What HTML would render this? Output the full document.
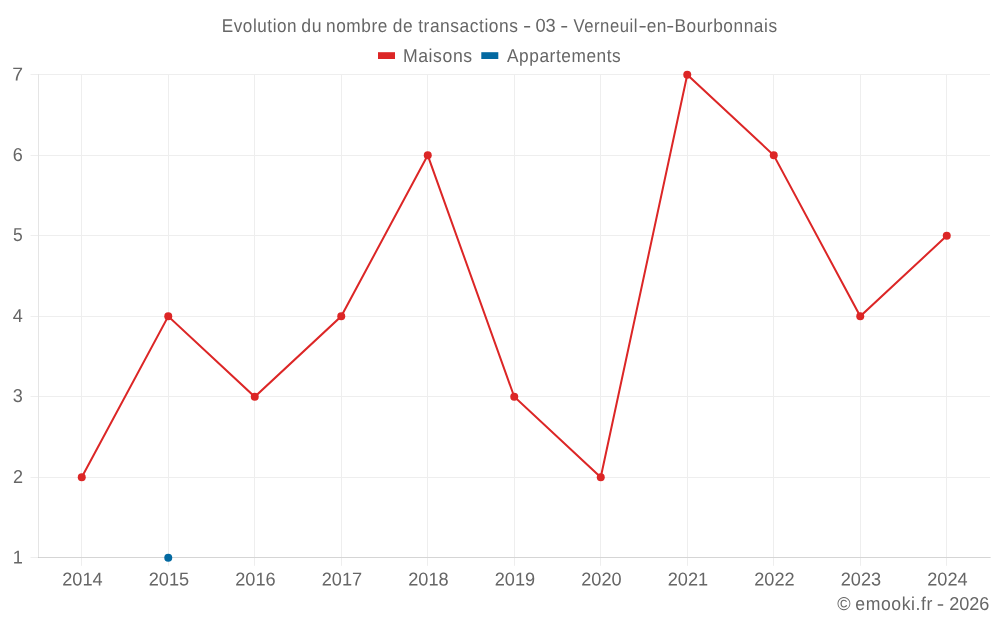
<!DOCTYPE html>
<html lang="fr"><head><meta charset="utf-8"><title>Evolution du nombre de transactions - 03 - Verneuil-en-Bourbonnais</title>
<style>
html,body{margin:0;padding:0;background:#fff;}
body{width:1000px;height:625px;overflow:hidden;}
.chart{margin:0;padding:0;width:1000px;height:625px;position:relative;background:#fff;}
.chart svg{display:block;width:1000px;height:625px;}
.chart text{font-family:"Liberation Sans",Arial,Helvetica,sans-serif;font-size:18.6px;fill:#666;text-rendering:geometricPrecision;}
</style></head><body>
<figure class="chart">
<svg width="1000" height="625" viewBox="0 0 1000 625" role="img" aria-label="Evolution du nombre de transactions - 03 - Verneuil-en-Bourbonnais">
<rect class="bg" width="1000" height="625" fill="#fff"/>
<g class="grid" stroke="#eeeeee" stroke-width="1" fill="none">
<path d="M81.5 74.8V557.0M81.5 558.0V565.8"/>
<path d="M168.5 74.8V557.0M168.5 558.0V565.8"/>
<path d="M254.5 74.8V557.0M254.5 558.0V565.8"/>
<path d="M341.5 74.8V557.0M341.5 558.0V565.8"/>
<path d="M427.5 74.8V557.0M427.5 558.0V565.8"/>
<path d="M514.5 74.8V557.0M514.5 558.0V565.8"/>
<path d="M600.5 74.8V557.0M600.5 558.0V565.8"/>
<path d="M687.5 74.8V557.0M687.5 558.0V565.8"/>
<path d="M773.5 74.8V557.0M773.5 558.0V565.8"/>
<path d="M860.5 74.8V557.0M860.5 558.0V565.8"/>
<path d="M946.5 74.8V557.0M946.5 558.0V565.8"/>
<path d="M30.5 557.5H38.0M39.0 557.5H990.0"/>
<path d="M30.5 477.5H38.0M39.0 477.5H990.0"/>
<path d="M30.5 396.5H38.0M39.0 396.5H990.0"/>
<path d="M30.5 316.5H38.0M39.0 316.5H990.0"/>
<path d="M30.5 235.5H38.0M39.0 235.5H990.0"/>
<path d="M30.5 155.5H38.0M39.0 155.5H990.0"/>
<path d="M30.5 74.5H38.0M39.0 74.5H990.0"/>
</g>
<g class="axis-border" stroke="rgba(0,0,0,0.1)" stroke-width="1" fill="none">
<path d="M38.5 74.0V558.0"/>
<path d="M38.0 557.5H991.0"/>
</g>
<g class="series series-maisons">
<polyline points="81.75,477.30 168.25,316.30 254.75,396.80 341.25,316.30 427.75,155.30 514.25,396.80 600.75,477.30 687.25,74.80 773.75,155.30 860.25,316.30 946.75,235.80" fill="none" stroke="#dc2626" stroke-width="2" stroke-linejoin="miter" stroke-linecap="butt"/>
<g class="points" fill="#dc2626">
<circle cx="81.75" cy="477.30" r="4"/>
<circle cx="168.25" cy="316.30" r="4"/>
<circle cx="254.75" cy="396.80" r="4"/>
<circle cx="341.25" cy="316.30" r="4"/>
<circle cx="427.75" cy="155.30" r="4"/>
<circle cx="514.25" cy="396.80" r="4"/>
<circle cx="600.75" cy="477.30" r="4"/>
<circle cx="687.25" cy="74.80" r="4"/>
<circle cx="773.75" cy="155.30" r="4"/>
<circle cx="860.25" cy="316.30" r="4"/>
<circle cx="946.75" cy="235.80" r="4"/>
</g>
</g>
<g class="series series-appartements">
<circle cx="168.25" cy="557.80" r="4" fill="#0369a1"/>
</g>
<text class="title" transform="matrix(1 0.0005 0 1 0 31.400)"><tspan x="221.82" textLength="75.28" lengthAdjust="spacingAndGlyphs" style="letter-spacing:0.6px">Evolution</tspan> <tspan x="301.29" textLength="20.81" lengthAdjust="spacingAndGlyphs" style="letter-spacing:0.6px">du</tspan> <tspan x="326.04" textLength="61.86" lengthAdjust="spacingAndGlyphs" style="letter-spacing:0.6px">nombre</tspan> <tspan x="392.70" textLength="20.42" lengthAdjust="spacingAndGlyphs" style="letter-spacing:0.6px">de</tspan> <tspan x="418.17" textLength="100.39" lengthAdjust="spacingAndGlyphs" style="letter-spacing:0.6px">transactions</tspan> <tspan x="523.03" textLength="8.27" lengthAdjust="spacingAndGlyphs">-</tspan> <tspan x="535.46" textLength="20.34" lengthAdjust="spacingAndGlyphs">03</tspan> <tspan x="560.27" textLength="8.00" lengthAdjust="spacingAndGlyphs">-</tspan> <tspan x="573.49" textLength="64.53" lengthAdjust="spacingAndGlyphs" style="letter-spacing:0.6px">Verneuil</tspan><tspan x="638.43" textLength="8.27" lengthAdjust="spacingAndGlyphs">-</tspan><tspan x="646.70" textLength="20.36" lengthAdjust="spacingAndGlyphs" style="letter-spacing:0.6px">en</tspan><tspan x="666.27" textLength="8.00" lengthAdjust="spacingAndGlyphs">-</tspan><tspan x="674.41" textLength="103.18" lengthAdjust="spacingAndGlyphs" style="letter-spacing:0.6px">Bourbonnais</tspan></text>
<g class="legend">
<g class="legend-item"><rect x="378" y="52.2" width="17" height="6.8" fill="#dc2626"/>
<text transform="matrix(1 0.0005 0 1 0 61.431)"><tspan x="402.98" textLength="69.70" lengthAdjust="spacingAndGlyphs" style="letter-spacing:0.6px">Maisons</tspan></text></g>
<g class="legend-item"><rect x="481.3" y="52.2" width="17" height="6.8" fill="#0369a1"/>
<text transform="matrix(1 0.0005 0 1 0 61.368)"><tspan x="506.98" textLength="114.37" lengthAdjust="spacingAndGlyphs" style="letter-spacing:0.6px">Appartements</tspan></text></g>
</g>
<g class="y-axis-labels">
<text x="12.64" transform="matrix(1 0.0005 0 1 0 563.441)" textLength="10.11" lengthAdjust="spacingAndGlyphs">1</text>
<text x="12.90" transform="matrix(1 0.0005 0 1 0 482.941)" textLength="10.04" lengthAdjust="spacingAndGlyphs">2</text>
<text x="12.77" transform="matrix(1 0.0005 0 1 0 402.441)" textLength="10.05" lengthAdjust="spacingAndGlyphs">3</text>
<text x="12.64" transform="matrix(1 0.0005 0 1 0 321.941)" textLength="10.04" lengthAdjust="spacingAndGlyphs">4</text>
<text x="13.04" transform="matrix(1 0.0005 0 1 0 241.441)" textLength="9.75" lengthAdjust="spacingAndGlyphs">5</text>
<text x="12.78" transform="matrix(1 0.0005 0 1 0 160.941)" textLength="10.04" lengthAdjust="spacingAndGlyphs">6</text>
<text x="12.21" transform="matrix(1 0.0005 0 1 0 80.441)" textLength="10.81" lengthAdjust="spacingAndGlyphs">7</text>
</g>
<g class="x-axis-labels">
<text x="62.23" transform="matrix(1 0.0005 0 1 0 585.559)" textLength="40.44" lengthAdjust="spacingAndGlyphs">2014</text>
<text x="148.73" transform="matrix(1 0.0005 0 1 0 585.516)" textLength="40.44" lengthAdjust="spacingAndGlyphs">2015</text>
<text x="235.23" transform="matrix(1 0.0005 0 1 0 585.473)" textLength="40.44" lengthAdjust="spacingAndGlyphs">2016</text>
<text x="321.73" transform="matrix(1 0.0005 0 1 0 585.429)" textLength="40.44" lengthAdjust="spacingAndGlyphs">2017</text>
<text x="408.23" transform="matrix(1 0.0005 0 1 0 585.386)" textLength="40.44" lengthAdjust="spacingAndGlyphs">2018</text>
<text x="494.73" transform="matrix(1 0.0005 0 1 0 585.343)" textLength="40.44" lengthAdjust="spacingAndGlyphs">2019</text>
<text x="581.23" transform="matrix(1 0.0005 0 1 0 585.300)" textLength="40.44" lengthAdjust="spacingAndGlyphs">2020</text>
<text x="667.73" transform="matrix(1 0.0005 0 1 0 585.256)" textLength="40.44" lengthAdjust="spacingAndGlyphs">2021</text>
<text x="754.23" transform="matrix(1 0.0005 0 1 0 585.213)" textLength="40.44" lengthAdjust="spacingAndGlyphs">2022</text>
<text x="840.73" transform="matrix(1 0.0005 0 1 0 585.170)" textLength="40.44" lengthAdjust="spacingAndGlyphs">2023</text>
<text x="927.23" transform="matrix(1 0.0005 0 1 0 585.127)" textLength="40.44" lengthAdjust="spacingAndGlyphs">2024</text>
</g>
<text class="copyright" transform="matrix(1 0.0005 0 1 0 609.543)"><tspan x="837.36" textLength="13.36" lengthAdjust="spacingAndGlyphs">©</tspan> <tspan x="855.29" textLength="77.61" lengthAdjust="spacingAndGlyphs" style="letter-spacing:0.6px">emooki.fr</tspan> <tspan x="936.75" textLength="7.44" lengthAdjust="spacingAndGlyphs">-</tspan> <tspan x="949.15" textLength="40.30" lengthAdjust="spacingAndGlyphs">2026</tspan></text>
</svg>
</figure>
</body></html>
